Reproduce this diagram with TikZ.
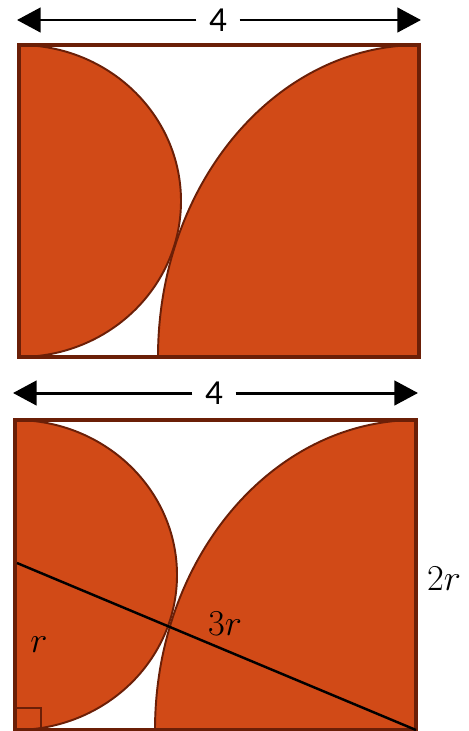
\documentclass[tikz,border=0pt]{standalone}
\usepackage{fontspec}
\usepackage{amsmath}
\usepackage{tikz}
\usetikzlibrary{arrows.meta}
\newfontfamily\dimfont{Carlito}
\definecolor{rust}{HTML}{D14A17}
\definecolor{darkrust}{HTML}{6B1F07}
\tikzstyle{arr}=[-{Triangle[length=13.5pt,width=14pt]},line width=1.7pt,color=black]
\tikzstyle{shade}=[fill=rust,draw=darkrust,line width=1.1pt]
\tikzstyle{frame}=[draw=darkrust,line width=1.8pt]
\tikzstyle{dimlabel}=[inner sep=7pt,font=\dimfont\fontsize{20}{24}\selectfont]
\tikzstyle{mathlabel}=[inner sep=0pt,font=\fontsize{21}{25}\selectfont]

\begin{document}
\begin{tikzpicture}[x=0.02cm,y=-0.02cm]
  \useasboundingbox (0,0) rectangle (469,731);
  % upper figure
  \coordinate (topleft) at (17,20);
  \coordinate (topright) at (421,20);
  \node[dimlabel] (topfour) at (218,20) {4};
  \draw[arr] (topfour) -- (topleft);
  \draw[arr] (topfour) -- (topright);
  \path[shade] (19,45) arc[start angle=-90,end angle=90,x radius=162,y radius=156] -- cycle;
  \path[shade] (158,357) arc[start angle=180,end angle=270,x radius=261,y radius=312] -- (419,357) -- cycle;
  \draw[frame] (19,45) rectangle (419,357);
  % lower figure
  \coordinate (botleft) at (13,393);
  \coordinate (botright) at (418,393);
  \node[dimlabel] (botfour) at (214,393) {4};
  \draw[arr] (botfour) -- (botleft);
  \draw[arr] (botfour) -- (botright);
  \path[shade] (15,420) arc[start angle=-90,end angle=90,x radius=162,y radius=155] -- cycle;
  \path[shade] (155,730) arc[start angle=180,end angle=270,x radius=261,y radius=310] -- (416,730) -- cycle;
  \draw[frame] (15,420) rectangle (416,730);
  \draw[draw=darkrust,line width=1.6pt] (15,730) rectangle (41,708);
  \coordinate (diagstart) at (17,563);
  \coordinate (corner) at (416,730);
  \draw[line width=1.4pt] (diagstart) -- (corner);
  \node[mathlabel] (rlab) at (39,645) {$r$};
  \node[mathlabel] (threerlab) at (225,624) {$3r$};
  \node[mathlabel] (tworlab) at (444,579) {$2r$};
\end{tikzpicture}
\end{document}
